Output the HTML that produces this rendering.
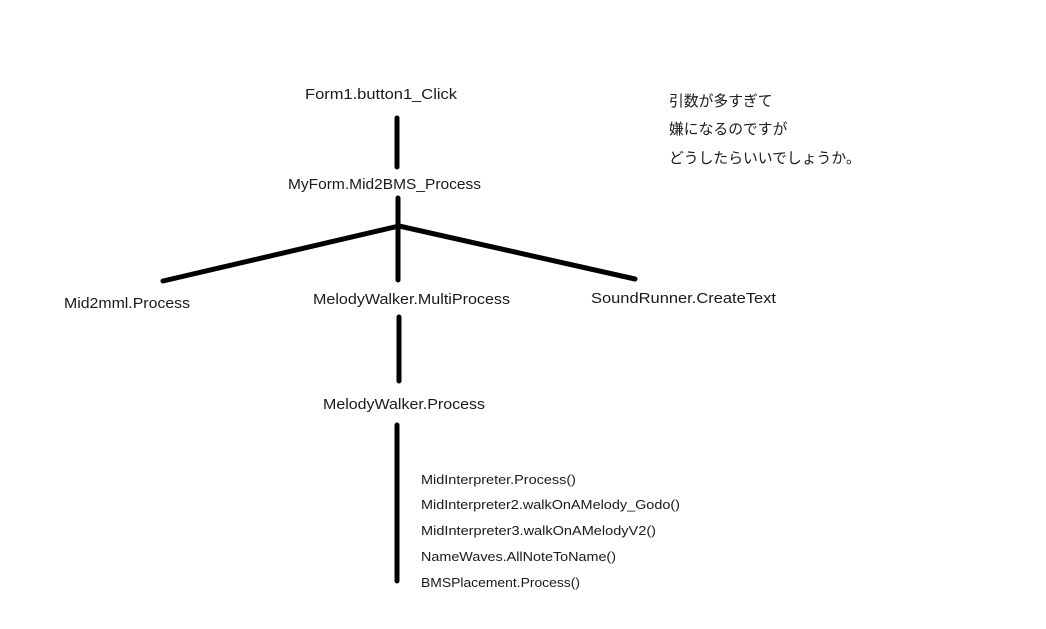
<!DOCTYPE html>
<html><head><meta charset="utf-8"><style>
html,body{margin:0;padding:0;background:#fff;}
svg{display:block;}
text{font-family:"Liberation Sans","Noto Sans CJK JP",sans-serif;fill:#1a1a1a;}
</style></head><body>
<svg width="1046" height="629" viewBox="0 0 1046 629" xmlns="http://www.w3.org/2000/svg">
<g stroke="#000" stroke-width="5" stroke-linecap="round" fill="none">
<line x1="397" y1="118" x2="397" y2="167"/>
<line x1="398" y1="198" x2="398" y2="280"/>
<line x1="399" y1="226" x2="163" y2="281"/>
<line x1="399" y1="226" x2="635" y2="279"/>
<line x1="399" y1="317" x2="399" y2="381"/>
<line x1="397" y1="425" x2="397" y2="581"/>
</g>
<g font-size="15">
<text x="305" y="99" textLength="152" lengthAdjust="spacingAndGlyphs">Form1.button1_Click</text>
<text x="288" y="189" textLength="193" lengthAdjust="spacingAndGlyphs">MyForm.Mid2BMS_Process</text>
<text x="64" y="308" textLength="126" lengthAdjust="spacingAndGlyphs">Mid2mml.Process</text>
<text x="313" y="304" textLength="197" lengthAdjust="spacingAndGlyphs">MelodyWalker.MultiProcess</text>
<text x="591" y="303" textLength="185" lengthAdjust="spacingAndGlyphs">SoundRunner.CreateText</text>
<text x="323" y="409" textLength="162" lengthAdjust="spacingAndGlyphs">MelodyWalker.Process</text>
</g>
<g font-size="13">
<text x="421" y="484" textLength="155" lengthAdjust="spacingAndGlyphs">MidInterpreter.Process()</text>
<text x="421" y="509" textLength="259" lengthAdjust="spacingAndGlyphs">MidInterpreter2.walkOnAMelody_Godo()</text>
<text x="421" y="535" textLength="235" lengthAdjust="spacingAndGlyphs">MidInterpreter3.walkOnAMelodyV2()</text>
<text x="421" y="561" textLength="195" lengthAdjust="spacingAndGlyphs">NameWaves.AllNoteToName()</text>
<text x="421" y="587" textLength="159" lengthAdjust="spacingAndGlyphs">BMSPlacement.Process()</text>
</g>
<g font-size="14.8">
<text x="669" y="106">引数が多すぎて</text>
<text x="669" y="134">嫌になるのですが</text>
<text x="669" y="163">どうしたらいいでしょうか。</text>
</g>
</svg>
</body></html>
